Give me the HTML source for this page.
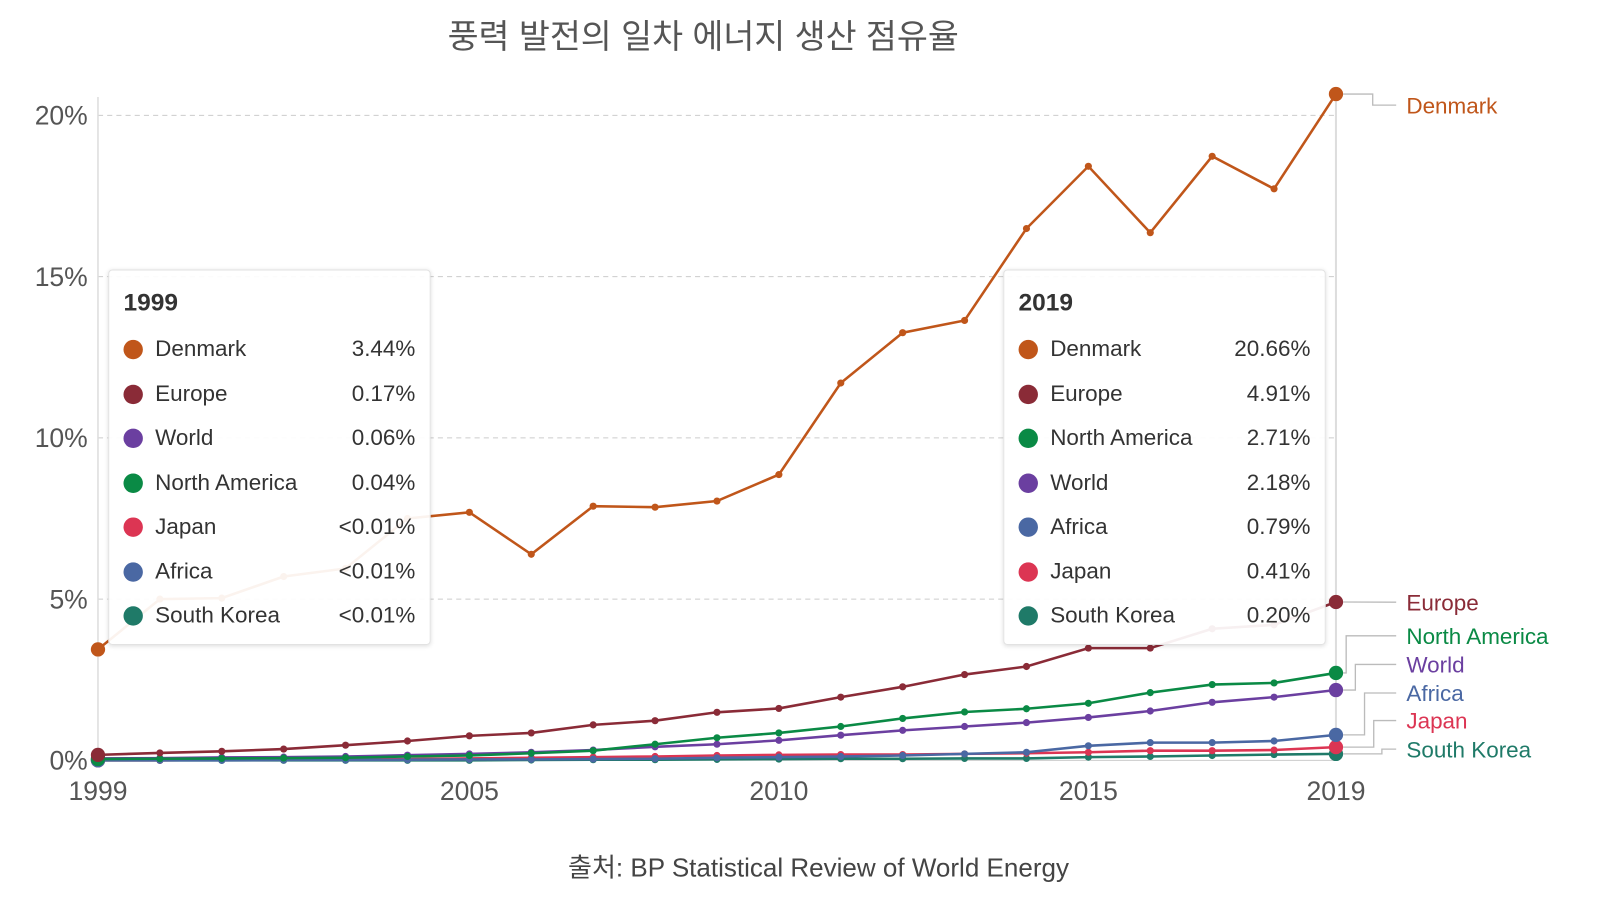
<!DOCTYPE html>
<html><head><meta charset="utf-8"><style>
html,body{margin:0;padding:0;background:#fff;width:1600px;height:900px;overflow:hidden}
#wrap{position:absolute;left:0;top:0;width:1560px;height:878px;transform:scale(1.0206);transform-origin:0 0;font-family:"Liberation Sans","Noto Sans CJK KR",sans-serif}
.tip{position:absolute;width:316px;height:368px;background:rgba(255,255,255,0.93);border:1px solid #e2e2e2;border-radius:4px;box-shadow:0 1px 4px rgba(0,0,0,0.12);box-sizing:border-box}
.tip h3{margin:0;position:absolute;left:14px;top:18px;font-size:24px;color:#333;font-weight:bold}
.row{position:absolute;left:14px;right:14px;height:30px;font-size:22px;color:#333}
.row .d{position:absolute;left:0;top:4px;width:19px;height:19px;border-radius:50%}
.row .n{position:absolute;left:31px;top:0}
.row .v{position:absolute;right:0;top:0}
</style></head><body>
<div id="wrap">
<svg id="svg" width="1560" height="878" style="position:absolute;left:0;top:0">
<text x="689" y="47" text-anchor="middle" font-size="33" fill="#555">풍력 발전의 일차 에너지 생산 점유율</text>
<text x="802" y="859" text-anchor="middle" font-size="25.5" fill="#444">출처: BP Statistical Review of World Energy</text>
<g id="grid"></g><g id="lines"></g><g id="labels"></g>
</svg>
<div class="tip" id="tipL" style="left:106px;top:264px"><h3>1999</h3></div>
<div class="tip" id="tipR" style="left:983px;top:264px"><h3>2019</h3></div>
</div>
<script>
const years=[1999,2000,2001,2002,2003,2004,2005,2006,2007,2008,2009,2010,2011,2012,2013,2014,2015,2016,2017,2018,2019];
const denmark=[3.44,5.0,5.03,5.7,5.95,7.5,7.69,6.39,7.88,7.85,8.04,8.86,11.7,13.26,13.64,16.49,18.42,16.36,18.73,17.72,20.66];
const europe=[0.17,0.23,0.28,0.35,0.47,0.6,0.76,0.85,1.1,1.23,1.49,1.61,1.96,2.28,2.66,2.91,3.48,3.48,4.08,4.2,4.91];
const northAmerica=[0.04,0.05,0.06,0.07,0.08,0.12,0.15,0.22,0.3,0.5,0.7,0.85,1.05,1.3,1.5,1.6,1.77,2.1,2.35,2.4,2.71];
const world=[0.06,0.07,0.09,0.1,0.12,0.16,0.2,0.25,0.32,0.42,0.5,0.62,0.78,0.93,1.05,1.17,1.33,1.53,1.8,1.96,2.18];
const africa=[0,0,0,0.01,0.01,0.02,0.03,0.03,0.04,0.05,0.08,0.1,0.12,0.15,0.2,0.25,0.45,0.55,0.55,0.6,0.79];
const japan=[0,0,0.01,0.02,0.03,0.04,0.06,0.08,0.1,0.12,0.15,0.17,0.18,0.18,0.2,0.22,0.25,0.3,0.3,0.32,0.41];
const southKorea=[0,0,0,0,0,0,0,0.01,0.02,0.02,0.03,0.04,0.05,0.05,0.06,0.06,0.1,0.12,0.15,0.18,0.2];
const yTicks=[0,5,10,15,20];
const xTicks=[1999,2005,2010,2015,2019];
const seriesNames=["Denmark","Europe","North America","World","Africa","Japan","South Korea"];
const seriesData=[denmark,europe,northAmerica,world,africa,japan,southKorea];
const colors=["#c0561a","#8a2b37","#0a8a45","#6b3fa0","#4a68a3","#dc3553","#1f7a68"];
const orderFirst=[0,1,3,2,5,4,6];
const orderLast=[0,1,2,3,4,5,6];
const ns="http://www.w3.org/2000/svg";
const X=y=>96+(y-1999)*(1309-96)/20;
const Y=v=>745-v*(745-113)/20;
function mk(tag,attrs,parent){const e=document.createElementNS(ns,tag);for(const k in attrs)e.setAttribute(k,attrs[k]);parent.appendChild(e);return e;}
const grid=document.getElementById('grid'),lines=document.getElementById('lines'),labels=document.getElementById('labels');
yTicks.forEach(t=>{
 if(t>0){const l=mk('line',{x1:96,x2:1309,y1:Y(t),y2:Y(t),stroke:'#ccc','stroke-dasharray':'5,4'},grid);
 
 }
 const tx=mk('text',{x:86,y:Y(t)+9,'text-anchor':'end','font-size':26,fill:'#555'},grid);tx.textContent=t+'%';
 
 
});
xTicks.forEach(t=>{const tx=mk('text',{x:X(t),y:784,'text-anchor':'middle','font-size':26,fill:'#555'},grid);tx.textContent=t;
 
 });
mk('line',{x1:96,x2:96,y1:95,y2:745,stroke:'#ddd','stroke-width':1.5},grid);
mk('line',{x1:1309,x2:1309,y1:95,y2:745,stroke:'#ddd','stroke-width':2},grid);
mk('line',{x1:96,x2:1309,y1:745,y2:745,stroke:'#ccc','stroke-width':1},grid);
for(let s=seriesData.length-1;s>=0;s--){
 const d=seriesData[s];
 const p=mk('polyline',{points:d.map((v,i)=>X(years[i])+','+Y(v)).join(' '),fill:'none',stroke:colors[s],'stroke-width':2.5},lines);
 
 
 d.forEach((v,i)=>{const end=(i==0||i==d.length-1);const c=mk('circle',{cx:X(years[i]),cy:Y(v),r:end?7:3.5,fill:colors[s]},lines);
 
 });
}
const labelY=[103,590,623,651,679,706,734];
const elbow=[1345,null,1319,1328,1337,1346,1354];
seriesNames.forEach((n,s)=>{
 const vy=Y(seriesData[s][20]);
 const pts=elbow[s]?`1316,${vy} ${elbow[s]},${vy} ${elbow[s]},${labelY[s]} 1368,${labelY[s]}`:`1316,${vy} 1368,${labelY[s]}`;
 mk('polyline',{points:pts,fill:'none',stroke:'#bbb','stroke-width':1.3},labels);
 const t=mk('text',{x:1378,y:labelY[s]+8,'font-size':22,fill:colors[s]},labels);t.textContent=n;
 
 
});
function fmt(v){return v<0.01?'<0.01%':v.toFixed(2)+'%';}
function tip(id,idx,order){
 const el=document.getElementById(id);
 order.forEach((s,k)=>{
  const r=document.createElement('div');r.className='row';r.style.top=(64+k*43.5)+'px';
  
  
  r.innerHTML=`<span class="d" style="background:${colors[s]}"></span><span class="n">${seriesNames[s]}</span><span class="v">${fmt(seriesData[s][idx])}</span>`;
  el.appendChild(r);
 });
}
tip('tipL',0,orderFirst);tip('tipR',20,orderLast);
</script>
</body></html>
